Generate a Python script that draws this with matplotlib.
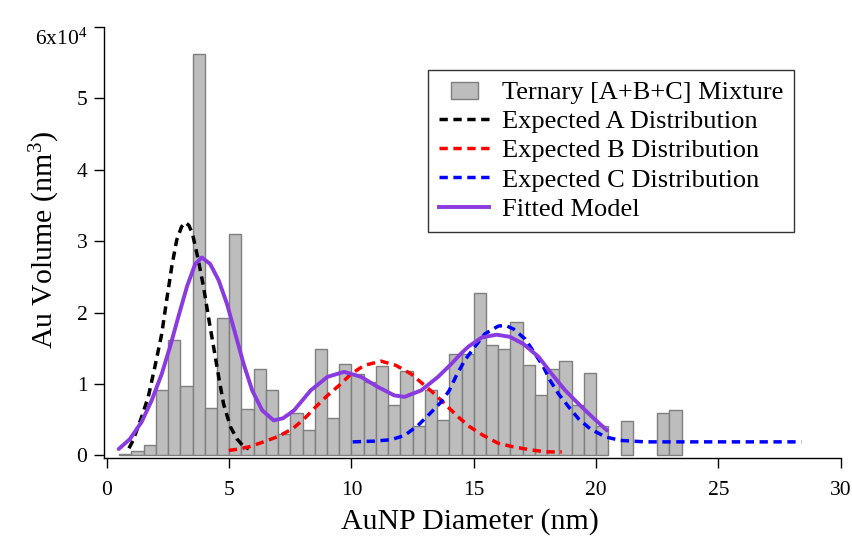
import matplotlib
matplotlib.use("Agg")
from matplotlib import pyplot as plt
import matplotlib.patches as patches
import matplotlib.transforms as mtransforms
from matplotlib.legend_handler import HandlerPatch
import numpy as np

# histogram bins (left edge, nm) and Au volume (nm^3)
BIN_LEFT = [0.5, 1.0, 1.5, 2.0, 2.5, 3.0, 3.5, 4.0, 4.5, 5.0, 5.5, 6.0, 6.5,
            7.0, 7.5, 8.0, 8.5, 9.0, 9.5, 10.0, 10.5, 11.0, 11.5, 12.0, 12.5,
            13.0, 13.5, 14.0, 14.5, 15.0, 15.5, 16.0, 16.5, 17.0, 17.5, 18.0,
            18.5, 19.0, 19.5, 20.0, 21.0, 22.5, 23.0]
VOLUME = [200, 560, 1500, 9200, 16200, 9700, 56200, 6700, 19300, 31000, 6500,
          12100, 9200, 3000, 5900, 3500, 14900, 5200, 12800, 11400, 10300,
          12500, 7100, 11800, 4100, 9100, 5000, 14200, 14200, 22800, 15500,
          14900, 18700, 12700, 8400, 12100, 13200, 7100, 11500, 4100, 4800,
          5900, 6300]
BIN_WIDTH = 0.5

# expected distributions (x in nm, y in 1e4 nm^3)
A_X = [0.9, 1.07, 1.42, 1.69, 1.96, 2.24, 2.44, 2.65, 2.85, 3.05, 3.2, 3.35,
       3.5, 3.74, 3.95, 4.15, 4.36, 4.57, 4.77, 5.05, 5.32, 5.55, 5.8]
A_Y = [0.10, 0.21, 0.54, 0.82, 1.24, 1.70, 2.17, 2.64, 3.01, 3.20, 3.26, 3.22,
       3.10, 2.73, 2.36, 1.94, 1.52, 1.10, 0.72, 0.40, 0.23, 0.14, 0.09]

B_X = [4.98, 5.4, 5.8, 6.41, 6.96, 7.58, 8.06, 8.54, 9.02, 9.56, 9.98, 10.52,
       11.21, 11.82, 12.44, 12.92, 13.40, 13.88, 14.36, 14.84, 15.39, 16.0,
       16.62, 17.30, 17.92, 18.60]
B_Y = [0.07, 0.09, 0.12, 0.19, 0.26, 0.37, 0.51, 0.68, 0.84, 1.00, 1.14, 1.26,
       1.32, 1.26, 1.14, 1.00, 0.86, 0.70, 0.54, 0.40, 0.28, 0.17, 0.12, 0.08,
       0.05, 0.05]

C_X = [10.05, 10.93, 11.62, 12.17, 12.72, 13.19, 13.67, 14.0, 14.29, 14.63,
       15.04, 15.45, 16.0, 16.3, 16.62, 17.10, 17.51, 17.85, 18.12, 18.47,
       18.88, 19.29, 19.77, 20.38, 21.0, 22.0, 25.0, 28.4]
C_Y = [0.19, 0.20, 0.22, 0.28, 0.42, 0.58, 0.75, 0.91, 1.12, 1.33, 1.52, 1.70,
       1.81, 1.82, 1.77, 1.63, 1.42, 1.24, 1.05, 0.86, 0.68, 0.51, 0.37, 0.26,
       0.21, 0.19, 0.19, 0.19]

FIT_X = [0.48, 0.94, 1.42, 1.83, 2.24, 2.58, 2.92, 3.27, 3.61, 3.88, 4.22,
         4.57, 4.91, 5.25, 5.59, 5.94, 6.35, 6.82, 7.2, 7.65, 8.33, 9.02, 9.70,
         10.39, 11.07, 11.75, 12.17, 12.85, 13.54, 14.08, 14.49, 14.77, 15.32,
         15.93, 16.48, 17.03, 17.65, 18.19, 18.74, 19.29, 19.84, 20.45]
FIT_Y = [0.09, 0.23, 0.47, 0.77, 1.14, 1.52, 1.94, 2.36, 2.68, 2.77, 2.68,
         2.45, 2.12, 1.70, 1.28, 0.91, 0.63, 0.49, 0.52, 0.63, 0.91, 1.10, 1.17,
         1.10, 0.96, 0.84, 0.82, 0.91, 1.10, 1.28, 1.43, 1.52, 1.65, 1.69, 1.66,
         1.56, 1.38, 1.14, 0.91, 0.72, 0.54, 0.35]

Y_TICKS = [0, 10000, 20000, 30000, 40000, 50000, 60000]
Y_TICK_LABELS = ['0', '1', '2', '3', '4', '5', r'6x10$^{4}$']
X_TICKS = [0, 5, 10, 15, 20, 25, 30]

plt.rcParams['font.family'] = ['Liberation Serif', 'DejaVu Serif']
plt.rcParams['mathtext.fontset'] = 'custom'
plt.rcParams['mathtext.rm'] = 'Liberation Serif'
plt.rcParams['mathtext.it'] = 'Liberation Serif:italic'

fig = plt.figure(figsize=(8.53, 5.37), dpi=100)
ax = fig.add_axes([104 / 853, (537 - 458.3) / 537, 736.6 / 853, 431.6 / 537])

scale = 1e4
dash = (2.4, 1.6)
lw = 2.5
purple = '#8a3be0'

ax.bar(BIN_LEFT, VOLUME, BIN_WIDTH, align='edge', color='#bdbdbd',
       edgecolor='#7f7f7f', linewidth=1.0, zorder=1)
ax.plot(A_X, np.array(A_Y) * scale, color='black', lw=lw, ls=(0, dash), zorder=3)
ax.plot(B_X, np.array(B_Y) * scale, color='#ff0000', lw=lw, ls=(0, dash), zorder=3)
ax.plot(C_X, np.array(C_Y) * scale, color='#0000ff', lw=lw, ls=(0, dash), zorder=3)
ax.plot(FIT_X, np.array(FIT_Y) * scale, color=purple, lw=2.8, zorder=4,
        solid_capstyle='round', solid_joinstyle='round')

ax.set_xlim(-0.12, 30.0)
ax.set_ylim(-400, 60000)
ax.set_xticks(X_TICKS)
ax.set_yticks(Y_TICKS)
ax.set_yticklabels(Y_TICK_LABELS)
ax.tick_params(axis='both', direction='out', length=7, width=1.0,
               labelsize=15.5)
ax.tick_params(axis='x', pad=9)
ax.tick_params(axis='y', pad=5)
for side in ['top', 'right']:
    ax.spines[side].set_visible(False)
for side in ['left', 'bottom']:
    ax.spines[side].set_linewidth(1.0)

ax.set_xlabel('AuNP Diameter (nm)', fontsize=21.5)
ax.xaxis.set_label_coords(0.497, -0.115)
ax.set_ylabel(r'Au Volume (nm$^{3}$)', fontsize=21.5)
ax.yaxis.set_label_coords(-0.057, 0.505)


def small_box(legend, orig_handle, xdescent, ydescent, width, height, fontsize):
    return patches.Rectangle((width * 0.25, -ydescent + height * 0.02),
                             width * 0.52, height * 0.9)


hist_patch = patches.Patch(facecolor='#bdbdbd', edgecolor='#7f7f7f', linewidth=1.0)
a_line = plt.Line2D([], [], color='black', lw=lw, ls=(0, dash))
b_line = plt.Line2D([], [], color='#ff0000', lw=lw, ls=(0, dash))
c_line = plt.Line2D([], [], color='#0000ff', lw=lw, ls=(0, dash))
fit_line = plt.Line2D([], [], color=purple, lw=2.8)

leg = ax.legend([hist_patch, a_line, b_line, c_line, fit_line],
                ['Ternary [A+B+C] Mixture', 'Expected A Distribution',
                 'Expected B Distribution', 'Expected C Distribution',
                 'Fitted Model'],
                loc='upper right', bbox_to_anchor=(0.937, 0.90),
                borderaxespad=0, fontsize=19, frameon=True, fancybox=False,
                handlelength=1.9, handletextpad=0.5, labelspacing=0.22,
                borderpad=0.4,
                handler_map={patches.Patch: HandlerPatch(patch_func=small_box)})
leg.get_frame().set_edgecolor('black')
leg.get_frame().set_linewidth(1.0)

# top tick label sits lower in the original (superscript level with the tick)
fig.canvas.draw()
top_lbl = ax.yaxis.get_major_ticks()[-1].label1
top_lbl.set_transform(top_lbl.get_transform() +
                      mtransforms.ScaledTranslation(0, -7 / 72, fig.dpi_scale_trans))

fig.savefig('out.png', dpi=100)
